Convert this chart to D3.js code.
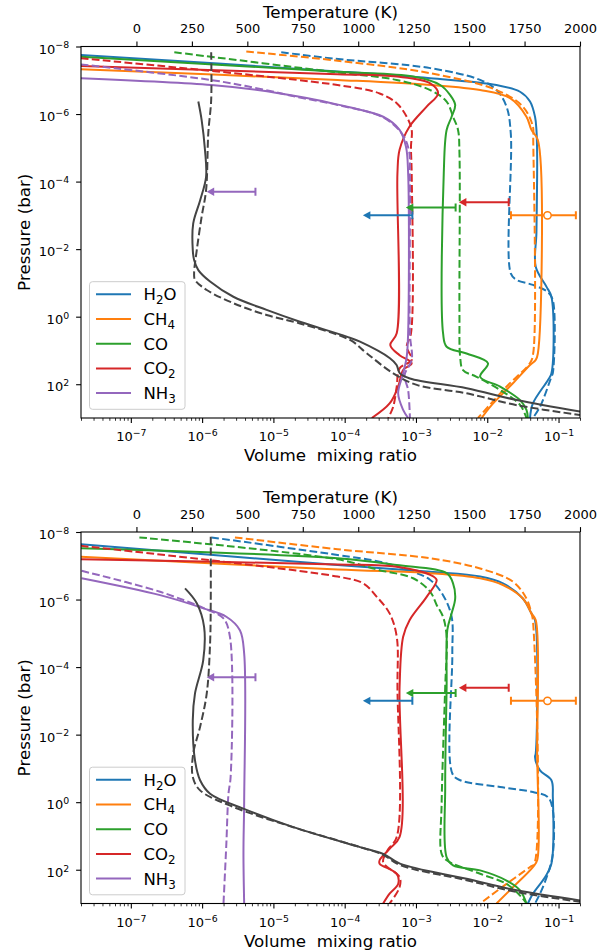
<!DOCTYPE html>
<html>
<head>
<meta charset="utf-8">
<script src="https://cdn.jsdelivr.net/npm/d3@7/dist/d3.min.js"></script>
<style>
  body { margin: 0; background: #fff; }
  text { font-family: "DejaVu Sans", sans-serif; fill: #000; }
</style>
</head>
<body>
<svg id="chart" width="609" height="951"></svg>
<script>
// axis ranges and ticks
var vmrDomain = [2e-8, 0.2];
var presDomain = [1e-8, 1e3];
var tempDomain = [-250, 2000];
var presTicks = [1e-8, 1e-6, 1e-4, 1e-2, 1e0, 1e2];
var vmrTicks = [1e-7, 1e-6, 1e-5, 1e-4, 1e-3, 1e-2, 1e-1];
var tempTicks = [0, 250, 500, 750, 1000, 1250, 1500, 1750, 2000];

var species = ["H2O", "CH4", "CO", "CO2", "NH3"];
var colors = ["#1f77b4", "#ff7f0e", "#2ca02c", "#d62728", "#9467bd"];

// retrieved constraints, same in both panels
var limitSpecies = [4, 0, 2, 3];            // NH3, H2O, CO, CO2
var limitPres = [2.0e-4, 1.0e-3, 5.9e-4, 4.1e-4];
var limitUpper = [5.6e-6, 8.9e-4, 3.6e-3, 2.0e-2];
var limitArrow = [1.16e-6, 1.8e-4, 7.2e-4, 4.0e-3];
var ch4Value = [7.0e-2, 1.0e-3];
var ch4Range = [2.15e-2, 1.75e-1];

// profiles: [log10 VMR, log10 P(bar)]   -- top panel
var topH2O = [[-7.70,-7.75],[-4.15,-7.27],[-2.80,-7.06],[-1.87,-6.86],[-1.54,-6.66],[-1.40,-6.37],[-1.33,-5.92],[-1.31,-5.53],[-1.30,-4.74],[-1.31,-2.5],[-1.32,-1.48],[-1.17,-0.89],[-1.10,-0.59],[-1.10,1.68],[-1.15,1.88],[-1.36,2.57],[-1.40,3.0]];
var topH2Odash = [[-4.89,-7.83],[-4.15,-7.64],[-2.80,-7.36],[-2.10,-7.01],[-1.87,-6.71],[-1.73,-6.22],[-1.67,-5.43],[-1.67,-1.28],[-1.59,-1.09],[-1.36,-0.94],[-1.15,-0.73],[-1.08,-0.49],[-1.08,1.67],[-1.10,1.78],[-1.26,2.67],[-1.36,3.0]];
var topCH4 = [[-7.70,-7.33],[-4.10,-7.01],[-2.80,-6.86],[-2.10,-6.71],[-1.68,-6.47],[-1.45,-5.92],[-1.38,-5.53],[-1.29,-5.23],[-1.29,1.09],[-1.32,1.28],[-1.40,1.43],[-1.64,1.97],[-1.96,2.67],[-2.08,3.0]];
var topCH4dash = [[-5.38,-7.85],[-4.10,-7.58],[-2.80,-7.21],[-1.87,-6.71],[-1.50,-6.22],[-1.36,-5.63],[-1.355,-5.23],[-1.355,1.08],[-1.40,1.37],[-1.73,2.07],[-2.13,3.0]];
var topCO = [[-7.70,-7.70],[-4.10,-7.25],[-3.04,-7.11],[-2.66,-6.86],[-2.52,-6.56],[-2.45,-6.27],[-2.50,-5.92],[-2.57,-5.53],[-2.61,-4.25],[-2.62,0.49],[-2.57,0.89],[-2.29,1.09],[-1.99,1.38],[-2.10,1.78],[-1.82,2.07],[-1.54,2.47],[-1.45,2.76],[-1.43,3.0]];
var topCOdash = [[-6.39,-7.83],[-4.10,-7.23],[-3.27,-7.01],[-2.80,-6.71],[-2.57,-6.37],[-2.48,-5.92],[-2.41,-5.53],[-2.39,-4.84],[-2.39,-0.10],[-2.38,1.19],[-2.34,1.58],[-2.15,1.78],[-1.82,2.17],[-1.54,2.61],[-1.45,3.0]];
var topCO2 = [[-7.70,-7.42],[-4.10,-7.18],[-3.27,-7.11],[-2.80,-6.91],[-2.69,-6.61],[-2.85,-6.22],[-3.09,-5.63],[-3.23,-4.94],[-3.26,-4.25],[-3.27,0.49],[-3.36,0.84],[-3.23,1.14],[-3.06,1.38],[-3.18,1.58],[-3.25,2.07],[-3.37,2.57],[-3.62,3.0]];
var topCO2dash = [[-7.70,-7.65],[-4.10,-6.86],[-3.51,-6.61],[-3.27,-6.32],[-3.13,-5.92],[-3.06,-5.53],[-3.07,-5.03],[-3.06,-4.25],[-3.07,0.49],[-3.13,0.89],[-3.06,1.28],[-3.23,1.53],[-3.27,2.07],[-3.32,2.67],[-3.39,3.0]];
var topNH3 = [[-7.70,-7.06],[-5.87,-6.86],[-5.22,-6.71],[-4.63,-6.51],[-4.20,-6.33],[-3.93,-6.20],[-3.46,-5.92],[-3.23,-5.53],[-3.14,-5.03],[-3.11,-4.25],[-3.11,0.49],[-3.13,1.19],[-3.18,1.68],[-3.25,2.27],[-3.18,2.76],[-3.11,3.0]];
var topNH3dash = [[-7.70,-7.47],[-5.88,-7.01],[-5.22,-6.76],[-4.63,-6.49],[-4.10,-6.27],[-3.46,-5.90],[-3.20,-5.43],[-3.10,-4.94],[-3.085,-4.19],[-3.085,0.49],[-3.06,1.28],[-3.16,1.73],[-3.11,2.17],[-3.085,3.0]];

// temperature: [T (K), log10 P(bar)]
var topTemp = [[279,-6.37],[294,-5.82],[309,-4.94],[314,-4.14],[287,-3.44],[256,-2.76],[254,-1.97],[260,-1.68],[279,-1.38],[332,-1.04],[437,-0.59],[587,-0.20],[737,0.15],[948,0.59],[1008,0.74],[1143,1.23],[1173,1.43],[1188,1.68],[1233,1.83],[1489,2.12],[1715,2.47],[2000,2.81]];
var topTempDash = [[337,-7.83],[337,-6.42],[324,-5.44],[314,-3.75],[294,-2.96],[272,-1.97],[260,-1.28],[264,-1.09],[317,-0.79],[437,-0.40],[587,-0.05],[737,0.20],[963,0.69],[1038,1.08],[1158,1.68],[1264,2.02],[1489,2.27],[1715,2.62],[2000,2.91]];

// bottom panel
var botH2O = [[-7.70,-7.64],[-4.10,-7.02],[-2.80,-6.82],[-2.10,-6.68],[-1.78,-6.48],[-1.50,-6.03],[-1.38,-5.59],[-1.33,-5.39],[-1.32,-1.44],[-1.33,-1.34],[-1.26,-0.94],[-1.10,-0.65],[-1.08,-0.15],[-1.10,1.82],[-1.19,2.22],[-1.36,2.71],[-1.43,3.0]];
var botH2Odash = [[-5.87,-7.84],[-4.10,-7.32],[-3.51,-7.12],[-3.04,-6.82],[-2.80,-6.58],[-2.62,-6.13],[-2.50,-5.49],[-2.49,-4.40],[-2.49,-0.85],[-2.38,-0.65],[-1.82,-0.45],[-1.36,-0.30],[-1.15,-0.15],[-1.08,0.24],[-1.08,1.53],[-1.15,2.12],[-1.26,2.71],[-1.33,3.0]];
var botCH4 = [[-7.70,-7.27],[-4.10,-6.89],[-2.80,-6.78],[-2.10,-6.63],[-1.78,-6.43],[-1.50,-6.03],[-1.38,-5.59],[-1.32,-5.39],[-1.30,-1.44],[-1.30,1.72],[-1.36,1.92],[-1.64,2.52],[-1.87,3.0]];
var botCH4dash = [[-5.54,-7.84],[-4.10,-7.49],[-2.80,-7.22],[-2.10,-6.92],[-1.64,-6.53],[-1.45,-6.03],[-1.38,-5.59],[-1.36,-5.39],[-1.34,1.82],[-1.40,1.92],[-1.73,2.42],[-2.10,3.0]];
var botCO = [[-7.70,-7.52],[-4.10,-7.22],[-3.27,-7.02],[-2.57,-6.78],[-2.48,-6.48],[-2.45,-6.03],[-2.50,-5.59],[-2.56,-5.10],[-2.57,-3.41],[-2.59,-0.45],[-2.57,1.63],[-2.48,1.87],[-2.10,2.02],[-1.73,2.32],[-1.54,2.61],[-1.45,3.0]];
var botCOdash = [[-6.88,-7.84],[-4.10,-7.19],[-3.51,-6.87],[-3.04,-6.63],[-2.80,-6.23],[-2.71,-5.84],[-2.62,-5.49],[-2.57,-4.90],[-2.59,-3.41],[-2.64,0.04],[-2.64,1.53],[-2.57,1.72],[-2.10,2.12],[-1.73,2.42],[-1.52,2.81],[-1.45,3.0]];
var botCO2 = [[-7.70,-7.19],[-4.10,-7.04],[-3.27,-6.97],[-2.80,-6.73],[-2.71,-6.58],[-2.85,-6.08],[-3.09,-5.39],[-3.18,-4.90],[-3.23,-3.41],[-3.23,1.03],[-3.37,1.38],[-3.51,1.72],[-3.51,1.82],[-3.27,2.12],[-3.25,2.42],[-3.37,2.71],[-3.46,3.0]];
var botCO2dash = [[-7.70,-7.59],[-4.10,-6.68],[-3.74,-6.48],[-3.55,-6.08],[-3.37,-5.59],[-3.27,-4.90],[-3.26,-3.41],[-3.27,1.03],[-3.40,1.43],[-3.46,1.78],[-3.23,2.22],[-3.23,2.52],[-3.37,3.0]];
var botNH3 = [[-7.69,-6.63],[-6.59,-6.13],[-5.98,-5.74],[-5.66,-5.49],[-5.47,-5.09],[-5.41,-4.40],[-5.41,-0.05],[-5.42,1.5],[-5.41,3.0]];
var botNH3dash = [[-7.69,-6.85],[-6.59,-6.23],[-5.94,-5.71],[-5.70,-5.44],[-5.61,-4.90],[-5.60,-0.75],[-5.63,-0.25],[-5.66,1.23],[-5.70,3.0]];

var botTemp = [[219,-6.33],[272,-5.89],[305,-5.19],[301,-4.20],[264,-3.22],[254,-2.43],[264,-1.24],[287,-0.65],[332,-0.25],[482,0.19],[707,0.74],[1008,1.33],[1113,1.53],[1188,1.82],[1489,2.27],[1715,2.61],[2000,2.91]];
var botTempDash = [[335,-7.86],[335,-5.90],[332,-4.70],[317,-3.22],[287,-2.23],[256,-1.44],[254,-0.75],[287,-0.35],[437,0.14],[707,0.74],[1008,1.33],[1113,1.56],[1188,1.86],[1489,2.31],[1715,2.66],[2000,2.95]];

var svg = d3.select("#chart");
var left = 81, right = 580, plotH = 371.5;

function powLabel(sel, e) {
    sel.text(null);
    sel.append("tspan").text("10");
    sel.append("tspan").attr("dy", "-0.55em").attr("font-size", "0.72em")
        .text(e < 0 ? "\u2212" + (-e) : e);
}

function chemLabel(sel, label) {
    // digits as subscripts
    var down = false;
    label.split("").forEach(function (c) {
        var isDigit = /[0-9]/.test(c);
        var t = sel.append("tspan").text(c);
        if (isDigit && !down) { t.attr("dy", 4).attr("font-size", "0.72em"); down = true; }
        else if (isDigit) { t.attr("font-size", "0.72em"); }
        else if (down) { t.attr("dy", -4); down = false; }
    });
}

function drawPanel(top, solid, dashed, tSolid, tDashed) {
    var x = d3.scaleLog().domain(vmrDomain).range([left, right]);
    var y = d3.scaleLog().domain(presDomain).range([top, top + plotH]);
    var t = d3.scaleLinear().domain(tempDomain).range([left, right]);

    var clipId = "clip" + Math.round(top);
    svg.append("clipPath").attr("id", clipId).append("rect")
        .attr("x", left).attr("y", top).attr("width", right - left).attr("height", plotH);

    var g = svg.append("g");
    var plot = g.append("g").attr("clip-path", "url(#" + clipId + ")");

    var line = d3.line()
        .x(function (d) { return x(Math.pow(10, d[0])); })
        .y(function (d) { return y(Math.pow(10, d[1])); })
        .curve(d3.curveCatmullRom.alpha(0.5));

    species.forEach(function (s, i) {
        plot.append("path").datum(solid[i]).attr("d", line)
            .attr("fill", "none").attr("stroke", colors[i]).attr("stroke-width", 2);
        plot.append("path").datum(dashed[i]).attr("d", line)
            .attr("fill", "none").attr("stroke", colors[i]).attr("stroke-width", 2)
            .attr("stroke-dasharray", "7.7,3.3");
    });

    // upper limits
    limitSpecies.forEach(function (si, k) {
        var yy = y(limitPres[k]), xc = x(limitUpper[k]), xa = x(limitArrow[k]);
        var c = colors[si];
        plot.append("line").attr("x1", xa + 5).attr("x2", xc).attr("y1", yy).attr("y2", yy)
            .attr("stroke", c).attr("stroke-width", 2);
        plot.append("line").attr("x1", xc).attr("x2", xc).attr("y1", yy - 4).attr("y2", yy + 4)
            .attr("stroke", c).attr("stroke-width", 2);
        plot.append("path")
            .attr("d", "M" + xa + "," + yy + "L" + (xa + 7.5) + "," + (yy - 4.2) + "L" + (xa + 7.5) + "," + (yy + 4.2) + "Z")
            .attr("fill", c);
    });

    // CH4 measurement
    var cy = y(ch4Value[1]);
    plot.append("line").attr("x1", x(ch4Range[0])).attr("x2", x(ch4Range[1]))
        .attr("y1", cy).attr("y2", cy).attr("stroke", colors[1]).attr("stroke-width", 2);
    ch4Range.forEach(function (v) {
        plot.append("line").attr("x1", x(v)).attr("x2", x(v)).attr("y1", cy - 4).attr("y2", cy + 4)
            .attr("stroke", colors[1]).attr("stroke-width", 2);
    });
    plot.append("circle").attr("cx", x(ch4Value[0])).attr("cy", cy).attr("r", 3.7)
        .attr("fill", "white").attr("stroke", colors[1]).attr("stroke-width", 1.5);

    // temperature profiles on the twin axis
    var tLine = d3.line()
        .x(function (d) { return t(d[0]); })
        .y(function (d) { return y(Math.pow(10, d[1])); })
        .curve(d3.curveCatmullRom.alpha(0.5));
    plot.append("path").datum(tSolid).attr("d", tLine)
        .attr("fill", "none").attr("stroke", "#444").attr("stroke-width", 2);
    plot.append("path").datum(tDashed).attr("d", tLine)
        .attr("fill", "none").attr("stroke", "#444").attr("stroke-width", 2)
        .attr("stroke-dasharray", "7.7,3.3");

    // legend
    var lg = g.append("g");
    lg.append("rect").attr("x", 89.5).attr("y", top + 235.2).attr("width", 95.5).attr("height", 127.6)
        .attr("rx", 3).attr("fill", "white").attr("fill-opacity", 0.8)
        .attr("stroke", "#ccc").attr("stroke-width", 1);
    species.forEach(function (s, i) {
        var ly = top + 247.8 + 24.7 * i;
        lg.append("line").attr("x1", 96).attr("x2", 131).attr("y1", ly).attr("y2", ly)
            .attr("stroke", colors[i]).attr("stroke-width", 2);
        var txt = lg.append("text").attr("x", 143.5).attr("y", ly).attr("dy", "0.36em")
            .attr("font-size", "16.5px");
        chemLabel(txt, s);
    });

    // frame
    g.append("rect").attr("x", left).attr("y", top).attr("width", right - left).attr("height", plotH)
        .attr("fill", "none").attr("stroke", "#000").attr("stroke-width", 1.1);

    // left axis
    var ya = g.append("g").attr("transform", "translate(" + left + ",0)")
        .call(d3.axisLeft(y).tickValues(presTicks).tickSize(4.9).tickPadding(7).tickSizeOuter(0).tickFormat(""));
    ya.select(".domain").remove();
    ya.selectAll(".tick line").attr("stroke-width", 1.1);
    ya.selectAll(".tick text").attr("font-size", "13px").attr("dy", "0.5em")
        .each(function (d) { powLabel(d3.select(this), Math.round(Math.log10(d))); });

    // bottom axis: majors and minors
    var minors = [];
    for (var e = -8; e <= -1; e++) {
        for (var m = 2; m <= 9; m++) {
            var v = m * Math.pow(10, e);
            if (v >= vmrDomain[0] && v <= vmrDomain[1]) minors.push(v);
        }
    }
    var xm = g.append("g").attr("transform", "translate(0," + (top + plotH) + ")")
        .call(d3.axisBottom(x).tickValues(minors).tickSize(2.8).tickSizeOuter(0).tickFormat(""));
    xm.select(".domain").remove();
    xm.selectAll(".tick line").attr("stroke-width", 0.8);
    var xa = g.append("g").attr("transform", "translate(0," + (top + plotH) + ")")
        .call(d3.axisBottom(x).tickValues(vmrTicks).tickSize(4.9).tickPadding(4.9).tickSizeOuter(0).tickFormat(""));
    xa.select(".domain").remove();
    xa.selectAll(".tick line").attr("stroke-width", 1.1);
    xa.selectAll(".tick text").attr("font-size", "13px").attr("dy", "1.05em")
        .each(function (d) { powLabel(d3.select(this), Math.round(Math.log10(d))); });

    // top axis: temperature
    var ta = g.append("g").attr("transform", "translate(0," + top + ")")
        .call(d3.axisTop(t).tickValues(tempTicks).tickSize(4.9).tickPadding(8.5).tickSizeOuter(0)
            .tickFormat(d3.format("d")));
    ta.select(".domain").remove();
    ta.selectAll(".tick line").attr("stroke-width", 1.1);
    ta.selectAll(".tick text").attr("font-size", "13px");

    // axis titles
    g.append("text").attr("x", (left + right) / 2).attr("y", top - 29).attr("text-anchor", "middle")
        .attr("font-size", "16.7px").text("Temperature (K)");
    g.append("text").attr("x", (left + right) / 2).attr("y", top + plotH + 43).attr("text-anchor", "middle")
        .attr("font-size", "16.7px").style("white-space", "pre").text("Volume  mixing ratio");
    g.append("text").attr("transform", "translate(30," + (top + plotH / 2) + ") rotate(-90)")
        .attr("text-anchor", "middle").attr("font-size", "16.7px").text("Pressure (bar)");
}

drawPanel(46.5,
    [topH2O, topCH4, topCO, topCO2, topNH3],
    [topH2Odash, topCH4dash, topCOdash, topCO2dash, topNH3dash],
    topTemp, topTempDash);
drawPanel(532,
    [botH2O, botCH4, botCO, botCO2, botNH3],
    [botH2Odash, botCH4dash, botCOdash, botCO2dash, botNH3dash],
    botTemp, botTempDash);
</script>
</body>
</html>
